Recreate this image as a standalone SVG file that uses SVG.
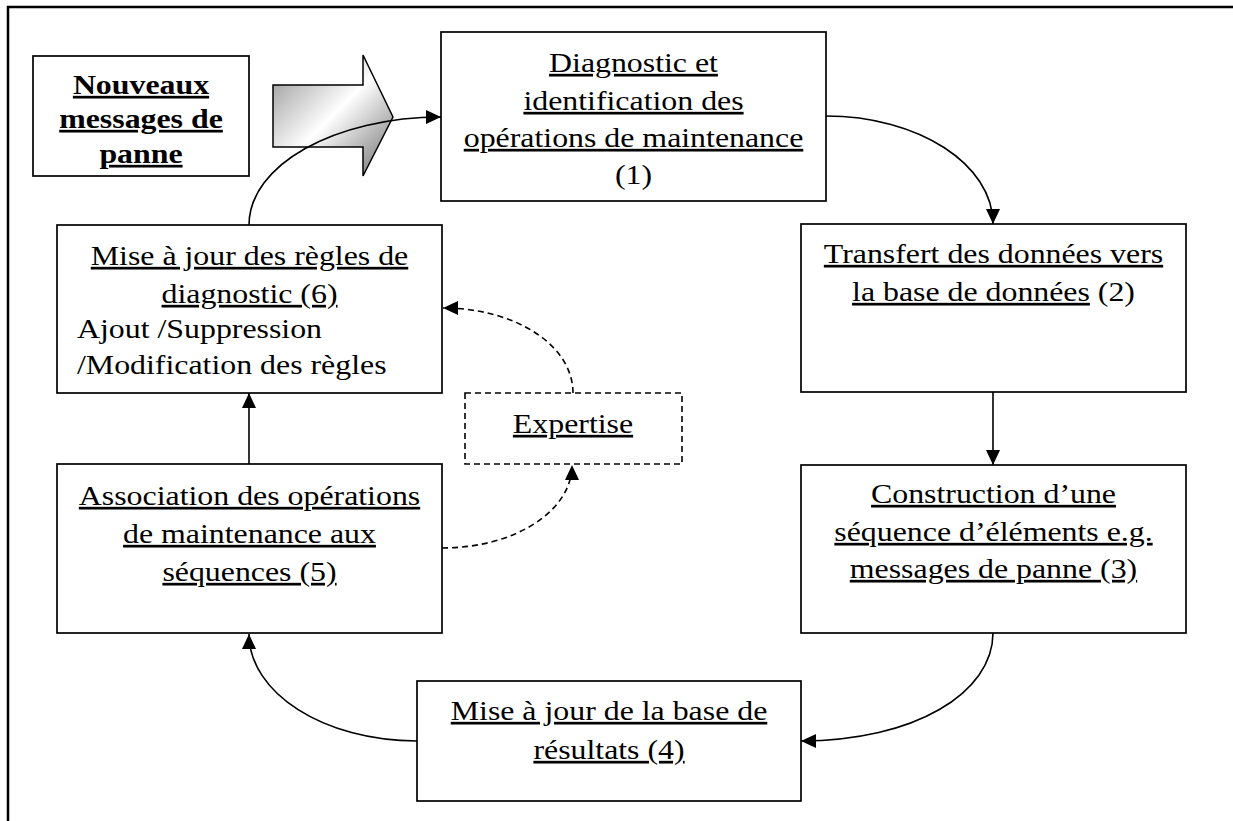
<svg xmlns="http://www.w3.org/2000/svg" width="1233" height="821" viewBox="0 0 1233 821">
<style>
.box{fill:#fff;stroke:#000;stroke-width:1.7}
.dbox{fill:#fff;stroke:#000;stroke-width:1.6;stroke-dasharray:6 4}
.t{font-family:"Liberation Serif","Times New Roman",serif;font-size:27px;fill:#000}
.b{font-weight:bold}
.u{text-decoration:underline}
.c{text-anchor:middle}
.ln{fill:none;stroke:#000;stroke-width:1.6}
.dl{fill:none;stroke:#000;stroke-width:1.6;stroke-dasharray:6 4}
</style>
<defs>
<marker id="ah" markerUnits="userSpaceOnUse" markerWidth="16" markerHeight="14" refX="15" refY="7" orient="auto"><path d="M0,0 L15,7 L0,14 z" fill="#000"/></marker>
<linearGradient id="gr" x1="0" y1="0" x2="1" y2="1">
<stop offset="0" stop-color="#8c8c8c"/>
<stop offset="0.5" stop-color="#ffffff"/>
<stop offset="1" stop-color="#6a6a6a"/>
</linearGradient>
</defs>
<rect width="1233" height="821" fill="#fff"/>
<path d="M8,821 L8,7 L1233,7" fill="none" stroke="#000" stroke-width="2.5"/>

<g id="nouveaux">
<rect class="box" x="33" y="56" width="216" height="120"/>
<g transform="translate(141,0) scale(1.18,1)">
<text class="t b u c" x="0" y="94">Nouveaux</text>
<text class="t b u c" x="0" y="128">messages de</text>
<text class="t b u c" x="0" y="163">panne</text>
</g>
</g>

<g id="bigarrow">
<polygon points="273,85 363,85 363,55 393,117 363,176 363,147 273,147" fill="url(#gr)" stroke="#000" stroke-width="1.5"/>
</g>

<g id="n1">
<rect class="box" x="441" y="32" width="385" height="169"/>
<g transform="translate(633.5,0) scale(1.18,1)">
<text class="t u c" x="0" y="72">Diagnostic et</text>
<text class="t u c" x="0" y="110">identification des</text>
<text class="t u c" x="0" y="147">opérations de maintenance</text>
<text class="t c" x="0" y="184">(1)</text>
</g>
</g>

<g id="n2">
<rect class="box" x="801" y="224" width="385" height="168"/>
<g transform="translate(993.5,0) scale(1.18,1)">
<text class="t u c" x="0" y="263">Transfert des données vers</text>
<text class="t c" x="0" y="301"><tspan class="u">la base de données</tspan> (2)</text>
</g>
</g>

<g id="n3">
<rect class="box" x="801" y="465" width="385" height="168"/>
<g transform="translate(993.5,0) scale(1.18,1)">
<text class="t u c" x="0" y="503">Construction d’une</text>
<text class="t u c" x="0" y="541">séquence d’éléments e.g.</text>
<text class="t u c" x="0" y="578">messages de panne (3)</text>
</g>
</g>

<g id="n4">
<rect class="box" x="417" y="681" width="384" height="120"/>
<g transform="translate(609,0) scale(1.18,1)">
<text class="t u c" x="0" y="720">Mise à jour de la base de</text>
<text class="t u c" x="0" y="759">résultats (4)</text>
</g>
</g>

<g id="n5">
<rect class="box" x="57" y="464" width="385" height="169"/>
<g transform="translate(249.5,0) scale(1.18,1)">
<text class="t u c" x="0" y="505">Association des opérations</text>
<text class="t u c" x="0" y="543">de maintenance aux</text>
<text class="t u c" x="0" y="581">séquences (5)</text>
</g>
</g>

<g id="n6">
<rect class="box" x="57" y="225" width="385" height="168"/>
<g transform="translate(77,0) scale(1.18,1)">
<text class="t u c" x="146.2" y="265">Mise à jour des règles de</text>
<text class="t u c" x="146.2" y="303">diagnostic (6)</text>
<text class="t" x="0" y="338">Ajout /Suppression</text>
<text class="t" x="0" y="374">/Modification des règles</text>
</g>
</g>

<g id="expertise">
<rect class="dbox" x="465" y="393" width="217" height="71"/>
<g transform="translate(573,0) scale(1.18,1)">
<text class="t u c" x="0" y="433">Expertise</text>
</g>
</g>

<g id="connectors">
<path class="ln" d="M826,116 C918,116 993,164 993,224" marker-end="url(#ah)"/>
<path class="ln" d="M993,392 L993,465" marker-end="url(#ah)"/>
<path class="ln" d="M993,633 C993,693 914,741 801,741" marker-end="url(#ah)"/>
<path class="ln" d="M417,741 C324,741 249,693 249,634" marker-end="url(#ah)"/>
<path class="ln" d="M249,464 L249,393" marker-end="url(#ah)"/>
<path class="ln" d="M249,225 C249,165 335,117 441,117" marker-end="url(#ah)"/>
<path class="dl" d="M573,393 C573,345 515,308 443,308" marker-end="url(#ah)"/>
<path class="dl" d="M442,548 C515,548 572,511 572,465" marker-end="url(#ah)"/>
</g>
</svg>
